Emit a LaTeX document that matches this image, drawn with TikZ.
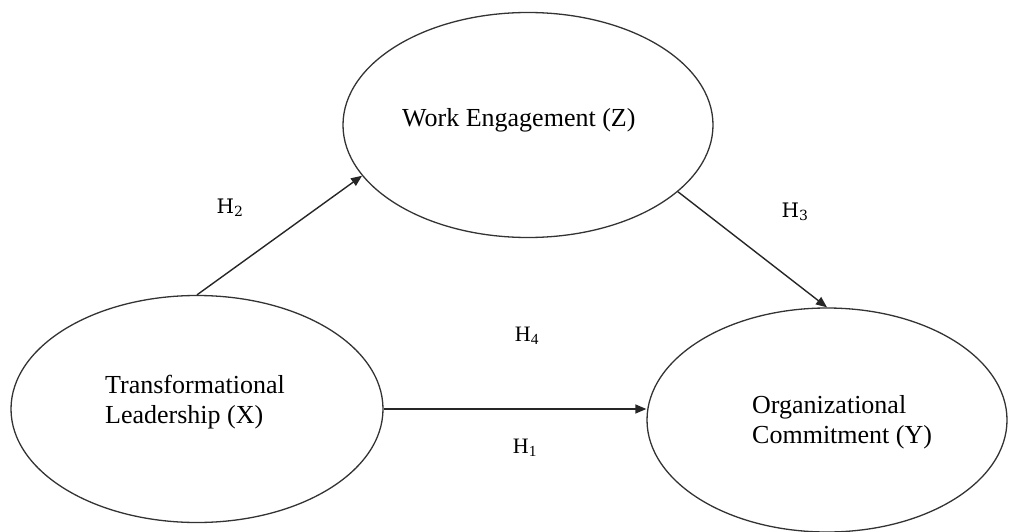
\documentclass[tikz,border=0pt]{standalone}
\usepackage{fontspec}
\setmainfont{Liberation Serif}
\newfontfamily\hfont{DejaVu Serif}
\usetikzlibrary{shapes.geometric,arrows.meta}
\tikzset{
  oval/.style={draw=black!80, line width=1.3pt, ellipse, inner sep=0pt},
  txt/.style={anchor=base west, inner sep=0pt, font=\fontsize{26}{30}\selectfont},
  hyp/.style={inner sep=0pt, font=\fontsize{26}{30}\selectfont},
  hypb/.style={inner sep=0pt, font=\hfont\fontsize{20}{24}\selectfont},
  link/.style={draw=black!85, line width=1.4pt, -{Triangle[length=11pt,width=9pt]}}
}
\begin{document}
\begin{tikzpicture}[x=1pt,y=-1pt]
\useasboundingbox (0,0) rectangle (1009,532);
% ellipses
\node[oval, minimum width=370pt, minimum height=225pt] (we) at (528,125) {};
\node[oval, minimum width=372pt, minimum height=227pt] (tl) at (197,409) {};
\node[oval, minimum width=360pt, minimum height=224pt] (oc) at (827,420) {};
% texts
\node[txt] (wet) at (402,127) {Work Engagement (Z)};
\node[txt] (tla) at (105,393) {Transformational};
\node[txt] (tlb) at (105,423) {Leadership (X)};
\node[txt] (oca) at (752,413) {Organizational};
\node[txt] (ocb) at (752,443) {Commitment (Y)};
% hypothesis labels
\node[hypb] (h2) at (230,208) {H\textsubscript{2}};
\node[hypb] (h3) at (795,212) {H\textsubscript{3}};
\node[hyp, font=\fontsize{22}{26}\selectfont] (h4) at (527,336) {H\textsubscript{4}};
\node[hyp, font=\fontsize{22}{26}\selectfont] (h1) at (525,448) {H\textsubscript{1}};
% connectors
\draw[link] (tl.north) -- (we.197);
\draw[link] (we.336.8) -- (oc.north);
\draw[link] (tl.east) -- (tl.east -| oc.west);
\end{tikzpicture}
\end{document}
